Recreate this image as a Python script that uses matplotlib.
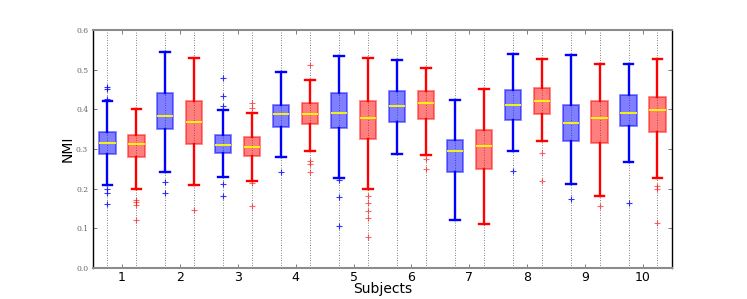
import matplotlib
matplotlib.use('Agg')
import matplotlib.pyplot as plt

# (whislo, q1, med, q3, whishi)
subjects = [1, 2, 3, 4, 5, 6, 7, 8, 9, 10]

blue_stats = [
    (0.210, 0.288, 0.316, 0.342, 0.421),
    (0.243, 0.351, 0.383, 0.442, 0.545),
    (0.230, 0.289, 0.310, 0.336, 0.399),
    (0.279, 0.356, 0.389, 0.412, 0.495),
    (0.228, 0.354, 0.391, 0.441, 0.535),
    (0.288, 0.368, 0.408, 0.446, 0.525),
    (0.120, 0.242, 0.294, 0.323, 0.424),
    (0.296, 0.373, 0.410, 0.449, 0.540),
    (0.213, 0.320, 0.365, 0.410, 0.536),
    (0.266, 0.357, 0.391, 0.437, 0.514),
]
blue_fliers = [
    [0.456, 0.451, 0.426, 0.200, 0.188, 0.161],
    [0.216, 0.190],
    [0.478, 0.434, 0.409, 0.211, 0.181],
    [0.242],
    [0.222, 0.179, 0.107],
    [],
    [],
    [0.245],
    [0.174],
    [0.163],
]

red_stats = [
    (0.200, 0.280, 0.312, 0.336, 0.402),
    (0.210, 0.313, 0.369, 0.421, 0.530),
    (0.219, 0.283, 0.304, 0.329, 0.391),
    (0.295, 0.363, 0.389, 0.416, 0.475),
    (0.198, 0.324, 0.379, 0.420, 0.530),
    (0.284, 0.376, 0.415, 0.445, 0.503),
    (0.111, 0.249, 0.308, 0.347, 0.450),
    (0.319, 0.389, 0.420, 0.455, 0.527),
    (0.182, 0.316, 0.378, 0.420, 0.515),
    (0.226, 0.344, 0.398, 0.432, 0.526),
]
red_fliers = [
    [0.172, 0.167, 0.160, 0.121],
    [0.147],
    [0.415, 0.404, 0.214, 0.156],
    [0.511, 0.269, 0.262, 0.243],
    [0.181, 0.163, 0.143, 0.126, 0.079],
    [0.274, 0.249],
    [],
    [0.289, 0.219],
    [0.157],
    [0.206, 0.200, 0.114],
]


def make_stats(stats, fliers):
    out = []
    for (lo, q1, med, q3, hi), fl in zip(stats, fliers):
        out.append({'whislo': lo, 'q1': q1, 'med': med, 'q3': q3,
                    'whishi': hi, 'fliers': fl})
    return out


fig = plt.figure(figsize=(7.47, 2.99), dpi=100)
ax = fig.add_axes([0.1245, 0.1037, 0.775, 0.796])

pos_blue = [s - 0.25 for s in subjects]
pos_red = [s + 0.25 for s in subjects]

# kropkowane linie pionowe w miejscach pudełek
for p in pos_blue + pos_red:
    ax.axvline(p, color='0.35', linestyle=(0, (1, 2)), linewidth=0.6, zorder=0)


def draw(stats, fliers, positions, color, flier_alpha):
    ax.bxp(make_stats(stats, fliers), positions=positions, widths=0.28,
           capwidths=0.17, patch_artist=True,
           boxprops=dict(facecolor=color, alpha=0.5, edgecolor=color, linewidth=1.3),
           whiskerprops=dict(color=color, linewidth=1.7),
           capprops=dict(color=color, linewidth=1.7),
           medianprops=dict(color='yellow', linewidth=1.3),
           flierprops=dict(marker='+', markeredgecolor=color, markersize=4,
                           markeredgewidth=0.8, alpha=flier_alpha),
           manage_ticks=False)


draw(blue_stats, blue_fliers, pos_blue, 'blue', 0.8)
draw(red_stats, red_fliers, pos_red, 'red', 0.6)

ax.set_xlim(0.5, 10.5)
ax.set_ylim(0.0, 0.6)
ax.set_xticks(subjects)
ax.set_xticklabels([str(s) for s in subjects], fontsize=9)
ax.set_yticks([0.0, 0.1, 0.2, 0.3, 0.4, 0.5, 0.6])
ax.set_yticklabels(['0.0', '0.1', '0.2', '0.3', '0.4', '0.5', '0.6'],
                   fontsize=5.5, family='DejaVu Serif', color='0.4')
ax.tick_params(axis='both', direction='in', length=3, width=0.6,
               top=True, right=True, colors='0.4')
ax.tick_params(axis='x', labelcolor='black', pad=2)

for side in ['top', 'bottom']:
    ax.spines[side].set_color('0.55')
    ax.spines[side].set_linewidth(1.5)
for side in ['left', 'right']:
    ax.spines[side].set_color('black')
    ax.spines[side].set_linewidth(1.0)

ax.set_xlabel('Subjects', fontsize=10, labelpad=-1)
ax.set_ylabel('NMI', fontsize=10, labelpad=1)

fig.savefig('out.png', dpi=100)
